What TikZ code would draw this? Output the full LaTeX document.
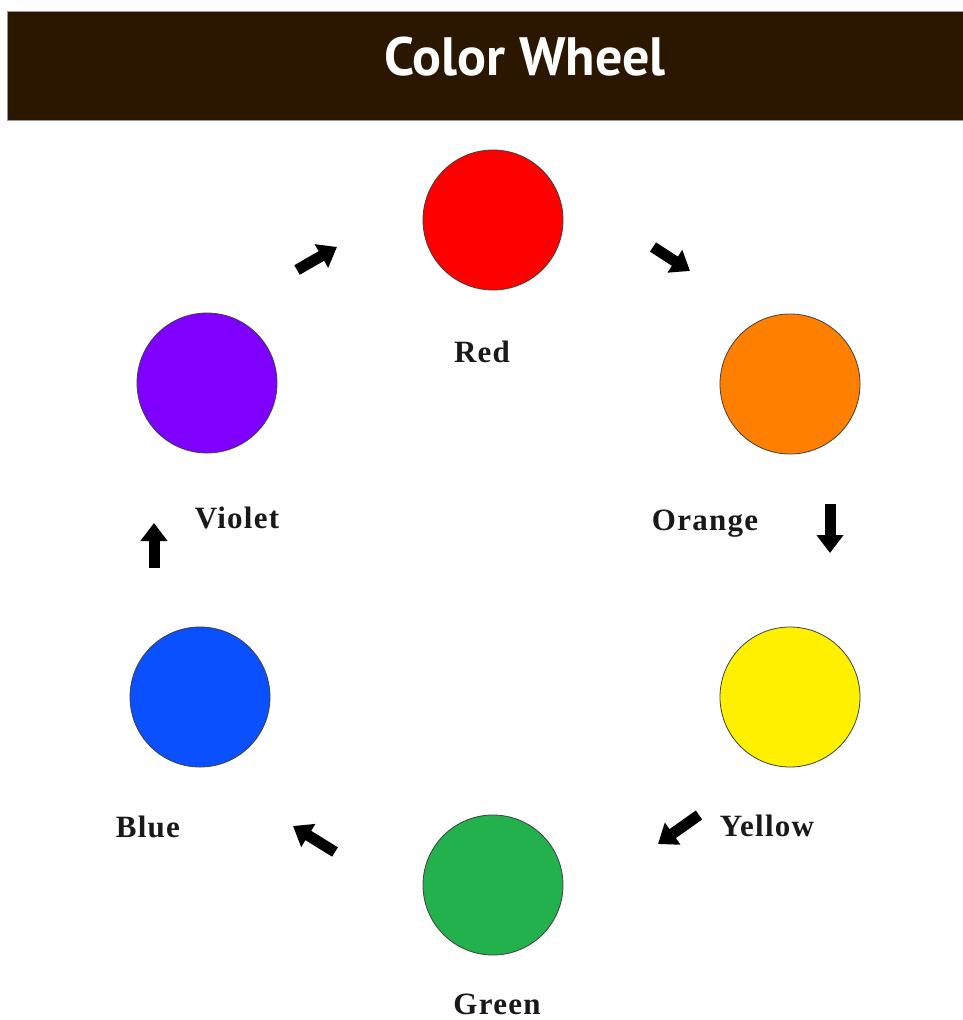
\documentclass[tikz,border=0pt]{standalone}
\usepackage{fontspec}
\setmainfont{Liberation Serif}
\newfontfamily\titlefont{PT Sans}
\newfontfamily\lblfont[LetterSpace=4]{Liberation Serif}
\usetikzlibrary{arrows.meta}
\definecolor{barbrown}{HTML}{2B1600}
\definecolor{cred}{HTML}{FF0000}
\definecolor{corange}{HTML}{FF8000}
\definecolor{cyellow}{HTML}{FFF000}
\definecolor{cgreen}{HTML}{22B14C}
\definecolor{cblue}{HTML}{0A50FF}
\definecolor{cviolet}{HTML}{8000FF}
\tikzset{
  dot/.style={circle, draw=black!75, line width=0.8pt, minimum size=140pt, inner sep=0pt},
  lbl/.style={font=\lblfont\fontsize{31}{33}\selectfont\bfseries, text=black!90, inner sep=0pt},
  blockarrow/.style={line width=11pt, -{Triangle[length=18pt,width=26pt]}, black},
}
\begin{document}
\begin{tikzpicture}[x=1pt,y=-1pt]
\useasboundingbox (0,0) rectangle (963,1020);
\fill[white] (0,0) rectangle (963,1020);
\node[fill=barbrown, draw=black!40, line width=0.6pt, minimum width=956pt, minimum height=109pt, inner sep=0pt, anchor=north west] (bar) at (7,11) {};
\node[text=white, font=\titlefont\bfseries\fontsize{54}{58}\selectfont, inner sep=0pt] (title) at (525,57) {Color Wheel};

\node[dot, fill=cred] (red) at (493,220) {};
\node[dot, fill=corange] (orange) at (790,384) {};
\node[dot, fill=cyellow] (yellow) at (790,697) {};
\node[dot, fill=cgreen] (green) at (493,885) {};
\node[dot, fill=cblue] (blue) at (200,697) {};
\node[dot, fill=cviolet] (violet) at (207,383) {};

\node[lbl] (lred) at (482,352) {Red};
\node[lbl] (lorange) at (705,524) {Orange};
\node[lbl] (lyellow) at (767,826) {Yellow};
\node[lbl] (lgreen) at (497,1004) {Green};
\node[lbl] (lblue) at (148,827) {Blue};
\node[lbl] (lviolet) at (237,518) {Violet};

\coordinate (a1s) at (297,270); \coordinate (a1e) at (337,247);
\coordinate (a2s) at (653,247); \coordinate (a2e) at (690,271);
\coordinate (a3s) at (830,504); \coordinate (a3e) at (830,553);
\coordinate (a4s) at (699,815); \coordinate (a4e) at (658,844);
\coordinate (a5s) at (335,852); \coordinate (a5e) at (293,826);
\coordinate (a6s) at (154,568); \coordinate (a6e) at (154,523);
\draw[blockarrow] (a1s) -- (a1e);
\draw[blockarrow] (a2s) -- (a2e);
\draw[blockarrow] (a3s) -- (a3e);
\draw[blockarrow] (a4s) -- (a4e);
\draw[blockarrow] (a5s) -- (a5e);
\draw[blockarrow] (a6s) -- (a6e);
\end{tikzpicture}
\end{document}
